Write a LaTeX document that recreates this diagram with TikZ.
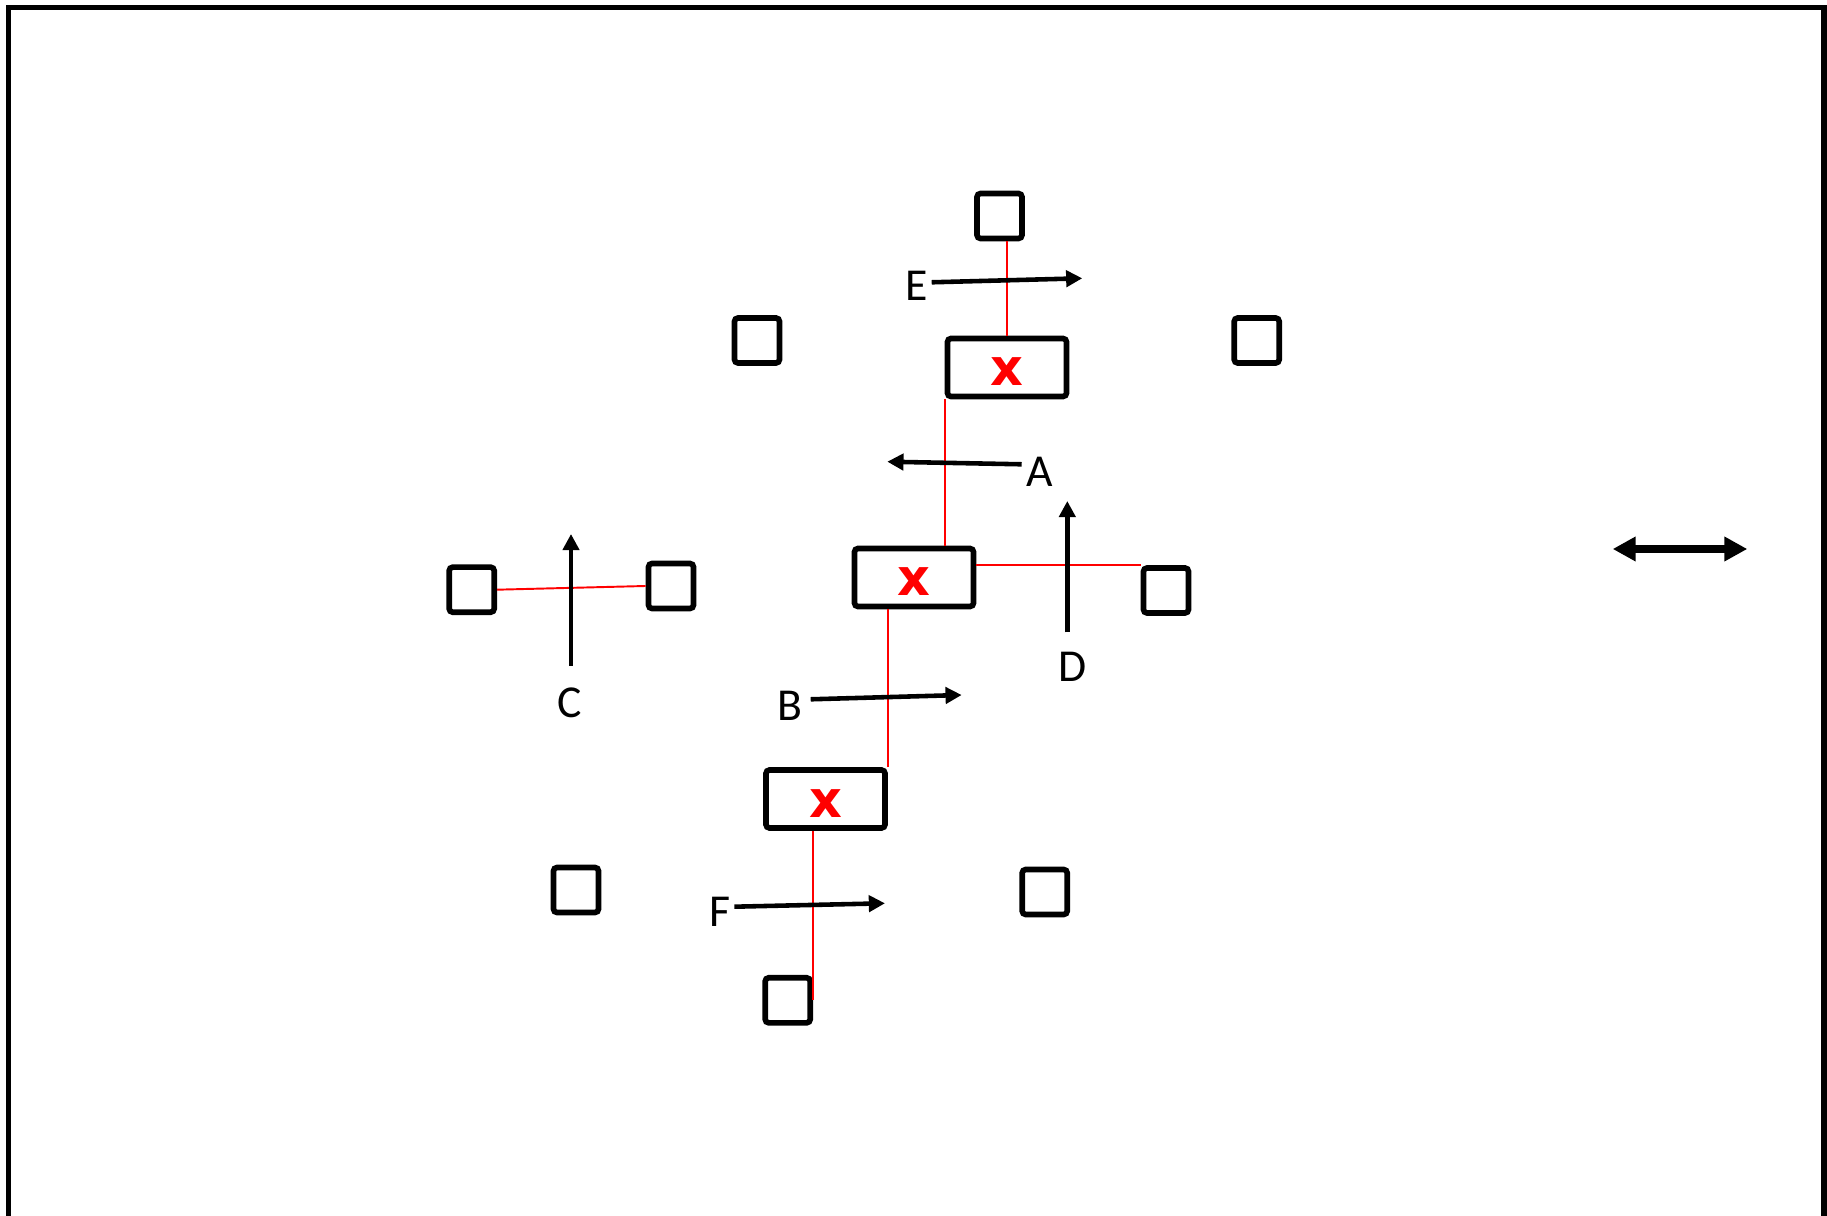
\documentclass[tikz,border=0pt]{standalone}
\usepackage{fontspec}
\setmainfont{Carlito}
\newfontfamily\crossfont{DejaVu Sans}
\usetikzlibrary{arrows.meta}

\begin{document}
\begin{tikzpicture}[x=0.01cm,y=-0.01cm,
  sq/.style={draw,line width=1.6pt,minimum size=0.45cm,inner sep=0pt,rounded corners=1pt},
  bx/.style={draw,line width=1.6pt,minimum width=1.19cm,minimum height=0.58cm,inner sep=0pt,rounded corners=1pt,
    text=red,text height=10.5pt,text depth=0pt,font=\crossfont\fontsize{14.5}{14.5}\selectfont\bfseries},
  lnk/.style={red,line width=0.55pt},
  flow/.style={line width=1.3pt,-{Triangle[length=4.6pt,width=4.6pt]}},
  lab/.style={inner sep=0pt,font=\fontsize{13}{15}\selectfont}]
\useasboundingbox (0,0) rectangle (1827,1216);
\draw[line width=1.6pt] (8.5,1216) -- (8.5,7.5) -- (1824,7.5) -- (1824,1216);
\foreach \n/\x/\y in %
{sqE/999.5/216,sqTL/757/340.5,sqTR/1256.7/340.5,sqCa/471.7/589.7,sqCb/671/586,%
 sqD/1166/590.5,sqBL/576/890,sqBR/1044.7/892,sqF/787.7/1000.3} {
   \node[sq] (\n) at (\x,\y) {};
}
\node[bx] (boxT) at (1007,367.5) {x};
\node[bx] (boxM) at (914,577.5) {x};
\node[bx] (boxB) at (825.5,799) {x};
\draw[lnk] (boxT.north) -- (boxT.north |- sqE.south);
\draw[lnk] (boxT.south west) -- (boxT.south west |- boxM.north);
\draw[lnk] (boxM.east |- sqD.north west) -- (sqD.north west);
\draw[lnk] (boxB.north east) -- (boxB.north east |- boxM.south);
\draw[lnk] (boxB.south -| sqF.east) -- (sqF.east);
\draw[lnk] (sqCa.east) -- (sqCb.west);
\foreach \n/\t/\x/\y in %
{labE/E/917/286,labA/A/1040/472,labD/D/1073/667,labC/C/570/703,labB/B/790/706,labF/F/720/912} {
   \node[lab] (\n) at (\x,\y) {\t};
}
\foreach \n/\xa/\ya/\xb/\yb in %
{E/931.7/282.3/1082.3/278.3,A/1021.7/464.3/887.3/461.7,D/1067.3/632.3/1067.3/501,%
 C/571/665.7/571/534,B/810.7/699.3/961.7/695,F/734.3/906.7/885/903.3} {
   \coordinate (tail\n) at (\xa,\ya);
   \coordinate (tip\n) at (\xb,\yb);
   \draw[flow] (tail\n) -- (tip\n);
}
\coordinate (dbl1) at (1612.7,549);
\coordinate (dbl2) at (1747.3,549);
\draw[line width=2pt,{Triangle[length=6.5pt,width=6.6pt]}-{Triangle[length=6.5pt,width=6.6pt]}] (dbl1) -- (dbl2);
\end{tikzpicture}
\end{document}
